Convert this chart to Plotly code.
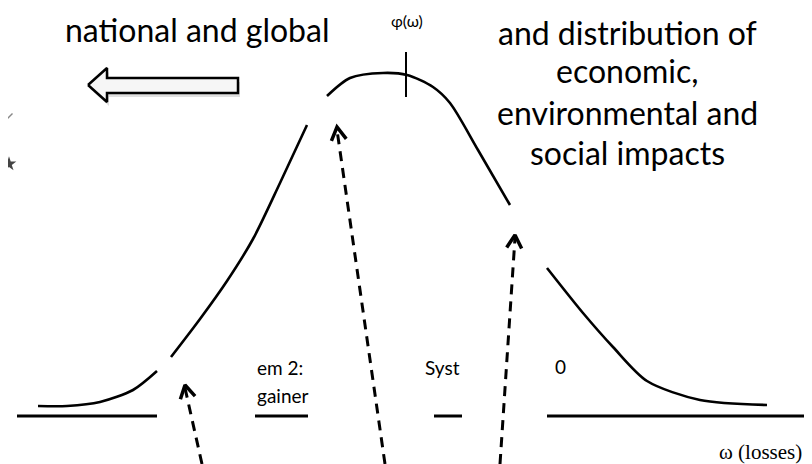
import numpy as np
import plotly.graph_objects as go

# Diagram drawn in screen-like coordinates (x: 0..812, y: 0..464 going down)

# bell curve phi(omega), broken where the arrows reach it
curve_x = [38, 67, 100, 133, 157, None, 171, 200, 227, 253, 280, 307, None,
           327, 350, 383, 407, 433, 450, 478, 510, None,
           547, 583, 613, 647, 700, 767]
curve_y = [406, 406, 402, 390, 371, None, 357, 319, 281, 239, 183, 125, None,
           96, 78, 73, 75, 87, 103, 150, 205, None,
           268, 313, 347, 381, 400, 405]

# omega axis, with gaps behind the labels
axis_x = [17, 157, None, 255, 308, None, 434, 462, None, 547, 812]
axis_y = [416, 416, None, 416, 416, None, 416, 416, None, 416, 416]

# peak marker on the curve
peak_x = [406, 406]
peak_y = [52, 97]

# dashed arrows pointing up to the curve (tail -> tip)
arrow_tail_x = [202, 385, 500]
arrow_tail_y = [464, 464, 464]
arrow_tip_x = [185, 337, 515]
arrow_tip_y = [385, 127, 235]

# hollow block arrow pointing left
block_x = [88, 107, 107, 238, 238, 107, 107, 88]
block_y = [85, 68, 78, 78, 93, 93, 102, 85]

# text lines: (text, x, y)
left_lines = [("national regions to", 197, -10), ("national and global", 197, 29.5)]
right_lines = [("C. Technology adoption", 627, -7.5), ("and distribution of", 627, 32.5),
               ("economic,", 627, 70.5), ("environmental and", 627, 112.5),
               ("social impacts", 627, 152.5)]
small_lines = [("em 2:", 255, 367.5), ("gainer", 255, 395.5), ("Syst", 462, 367.5), ("0", 553, 366)]

fig = go.Figure()

# block arrow shadow and body
fig.add_trace(go.Scatter(x=[v + 2 for v in block_x], y=[v + 4 for v in block_y], mode='lines',
                         fill='toself', fillcolor='rgba(0,0,0,0.12)', line=dict(width=0),
                         hoverinfo='skip'))
fig.add_trace(go.Scatter(x=block_x, y=block_y, mode='lines', fill='toself',
                         fillcolor='#f6f6f6', line=dict(color='black', width=2.5),
                         hoverinfo='skip'))

fig.add_trace(go.Scatter(x=axis_x, y=axis_y, mode='lines',
                         line=dict(color='black', width=3), hoverinfo='skip'))
fig.add_trace(go.Scatter(x=curve_x, y=curve_y, mode='lines',
                         line=dict(color='black', width=2.6, shape='spline', smoothing=0.8),
                         connectgaps=False, hoverinfo='skip'))
fig.add_trace(go.Scatter(x=peak_x, y=peak_y, mode='lines',
                         line=dict(color='black', width=2), hoverinfo='skip'))

# dashed arrows with open chevron heads
for tx, ty, hx, hy in zip(arrow_tail_x, arrow_tail_y, arrow_tip_x, arrow_tip_y):
    fig.add_trace(go.Scatter(x=[tx, hx], y=[ty, hy + 3], mode='lines',
                             line=dict(color='black', width=3, dash='10px,7px'),
                             hoverinfo='skip'))
    d = np.array([tx - hx, ty - hy], dtype=float)
    d /= np.linalg.norm(d)
    arms = []
    for a in (np.radians(30), -np.radians(30)):
        r = np.array([[np.cos(a), -np.sin(a)], [np.sin(a), np.cos(a)]]) @ d
        arms.append((hx + 15 * r[0], hy + 15 * r[1]))
    fig.add_trace(go.Scatter(x=[arms[0][0], hx, arms[1][0]], y=[arms[0][1], hy, arms[1][1]],
                             mode='lines', line=dict(color='black', width=3.5),
                             hoverinfo='skip'))

# stray bits of a clipped picture at the left edge
fig.add_trace(go.Scatter(x=[9], y=[164], mode='markers',
                         marker=dict(symbol='star', size=11, color='#444'), hoverinfo='skip'))
fig.add_trace(go.Scatter(x=[10], y=[116], mode='markers',
                         marker=dict(symbol='line-ne', size=5, line=dict(color='#888', width=1.5)),
                         hoverinfo='skip'))

big = dict(family='Lato, Open Sans, sans-serif', size=32, color='black')
for txt, x, y in left_lines + right_lines:
    fig.add_annotation(x=x, y=y, text=txt, showarrow=False, font=big,
                       xanchor='center', yanchor='middle')

small = dict(family='Lato, Open Sans, sans-serif', size=19, color='black')
for txt, x, y in small_lines:
    anchor = 'right' if txt == 'Syst' else 'left'
    fig.add_annotation(x=x, y=y, text=txt, showarrow=False, font=small,
                       xanchor=anchor, yanchor='middle', align='left')

fig.add_annotation(x=407, y=20, text='φ(ω)', showarrow=False,
                   font=dict(family='Lato, sans-serif', size=16, color='black'))
fig.add_annotation(x=804, y=452, text='ω (losses)', showarrow=False, xanchor='right',
                   font=dict(family='Liberation Serif, serif', size=21, color='black'))

# the page body has an 8px margin, so the figure starts at (8, 8)
fig.update_layout(
    width=804, height=456,
    margin=dict(l=0, r=0, t=0, b=0),
    paper_bgcolor='white', plot_bgcolor='white',
    showlegend=False,
    xaxis=dict(range=[8, 812], visible=False, fixedrange=True),
    yaxis=dict(range=[464, 8], visible=False, fixedrange=True),
)

fig.write_html("out.html")
